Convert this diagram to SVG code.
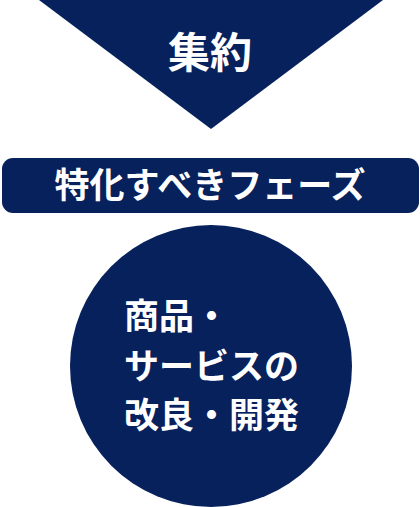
<svg xmlns="http://www.w3.org/2000/svg" width="420" height="507" viewBox="0 0 420 507">
<style>
.shape{fill:#07215d}
.t{fill:#ffffff;font-family:"Noto Sans CJK JP","Noto Sans",sans-serif;font-weight:bold}
</style>
<rect width="420" height="507" fill="#ffffff"/>
<g id="node-shuyaku">
<polygon class="shape" points="39,0 383,0 211,129"/>
<text class="t" x="210" y="68" font-size="42" text-anchor="middle">集約</text>
</g>
<g id="connectors"></g>
<g id="node-phase">
<rect class="shape" x="2" y="158" width="417" height="55" rx="11"/>
<text class="t" x="210" y="198" font-size="35" text-anchor="middle">特化すべきフェーズ</text>
</g>
<g id="node-circle">
<circle class="shape" cx="211" cy="366" r="141"/>
<text class="t" font-size="35">
<tspan x="124" y="329">商品・</tspan>
<tspan x="124" y="379">サービスの</tspan>
<tspan x="124" y="428">改良・開発</tspan>
</text>
</g>
</svg>
